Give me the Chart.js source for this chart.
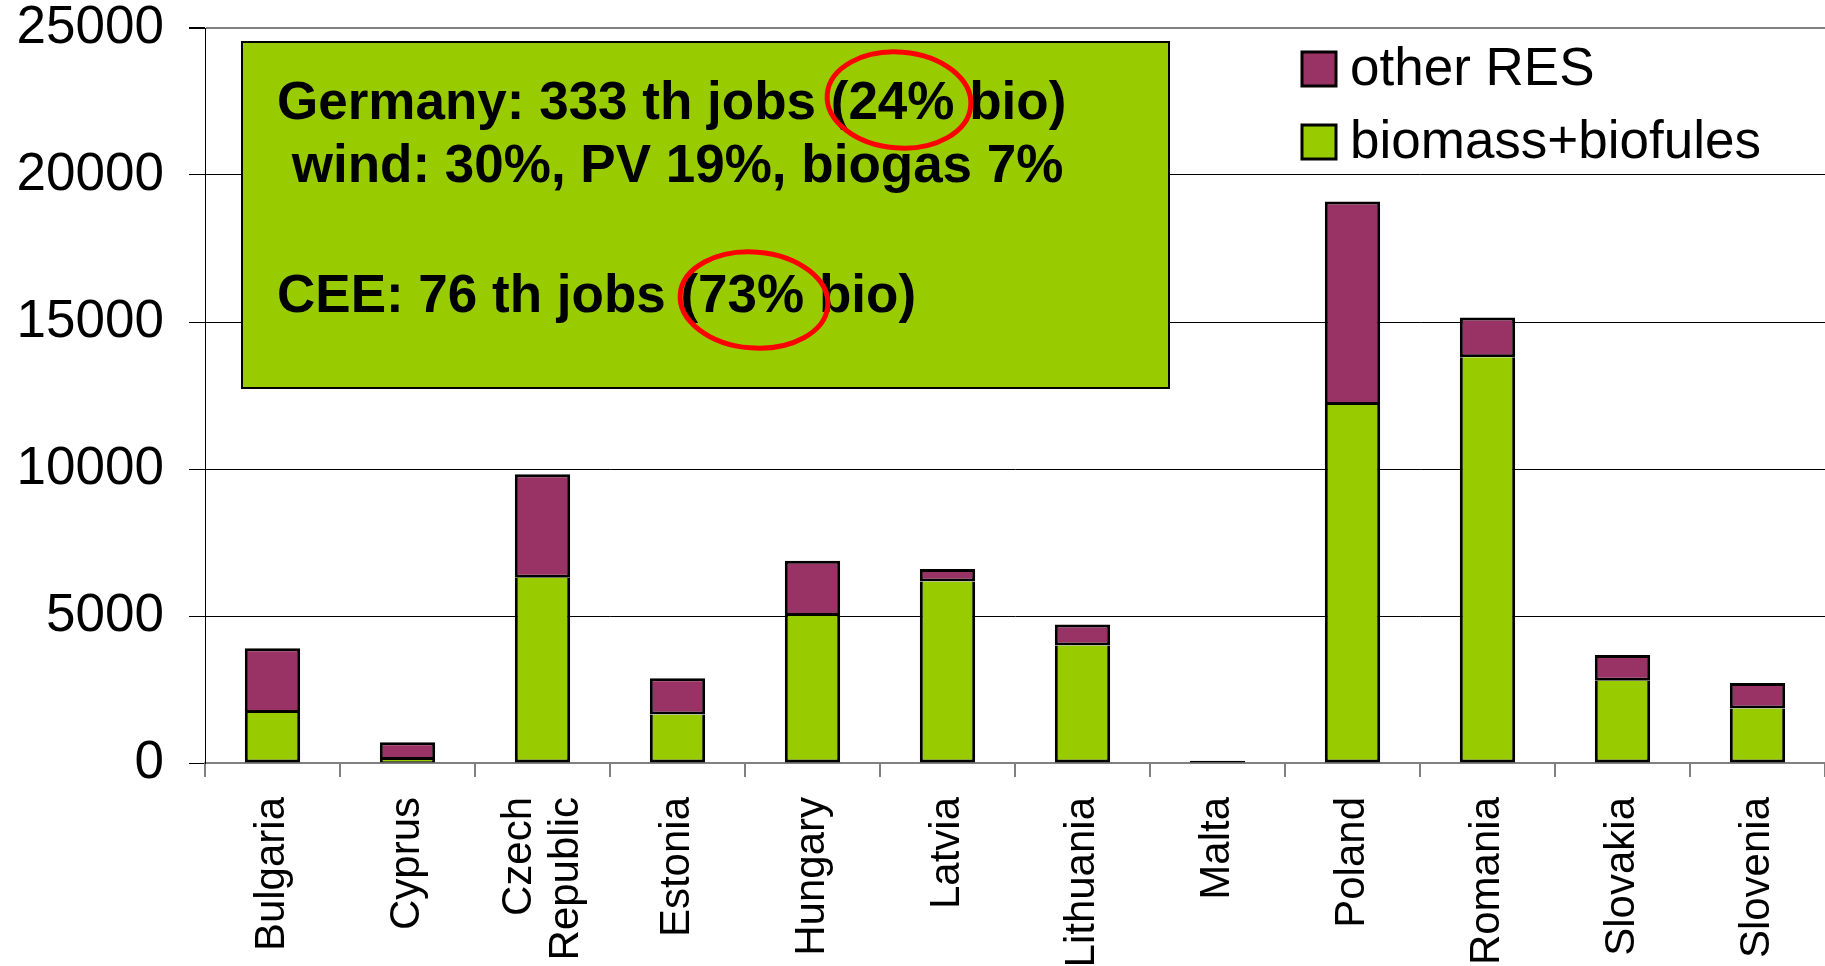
<!DOCTYPE html>
<html><head><meta charset="utf-8">
<script src="https://cdn.jsdelivr.net/npm/chart.js@4/dist/chart.umd.min.js"></script>
<style>html,body{margin:0;padding:0;background:#fff;overflow:hidden}#wrap{width:1825px;height:966px;position:relative}</style>
</head><body><div id="wrap"><canvas id="c" width="1825" height="966"></canvas></div>
<script>
const categories = ['Bulgaria','Cyprus',['Czech','Republic'],'Estonia','Hungary','Latvia','Lithuania','Malta','Poland','Romania','Slovakia','Slovenia'];
const biomass = [1700,100,6300,1650,5000,6170,4000,20,12180,13800,2800,1850];
const otherRES = [2200,610,3520,1230,1880,430,710,60,6920,1350,870,870];
const yTicks = [0,5000,10000,15000,20000,25000];
const seriesNames = ['biomass+biofules','other RES'];
const seriesColors = ['#99CC00','#993366'];
const boxLines = ['Germany: 333 th jobs (24% bio)',' wind: 30%, PV 19%, biogas 7%','CEE: 76 th jobs (73% bio)'];

const FONT = '"Liberation Sans", Arial, sans-serif';
const XFS = 42, XLH = 1.12;

const overlay = {
  id:'overlay',
  beforeDraw(chart){
    const s = chart.scales.x;
    const items = s.getLabelItems(chart.chartArea);
    items.forEach((it,i)=>{
      const lab = categories[i];
      if (Array.isArray(lab) && !it._shifted){
        it.options.translation[0] -= (lab.length-1)*XFS*XLH/2;
        it._shifted = true;
      }
    });
  },
  afterDraw(chart){
    const ctx = chart.ctx;
    ctx.save();
    ctx.fillStyle='#99CC00'; ctx.fillRect(242,42,927,346);
    ctx.strokeStyle='#000'; ctx.lineWidth=2; ctx.strokeRect(242,42,927,346);
    ctx.fillStyle='#000'; ctx.font='bold 53px '+FONT;
    ctx.textBaseline='alphabetic'; ctx.textAlign='left';
    ctx.fillText(boxLines[0], 277, 119);
    ctx.fillText(boxLines[1], 277, 182);
    ctx.fillText(boxLines[2], 277, 312);
    ctx.strokeStyle='#FF0000'; ctx.lineWidth=5;
    ctx.beginPath(); ctx.ellipse(899,100,72,48,0.08,0,Math.PI*2); ctx.stroke();
    ctx.beginPath(); ctx.ellipse(754,300,74,48,0.08,0,Math.PI*2); ctx.stroke();
    const order=[1,0], ys=[52,125];
    ctx.font='53px '+FONT; ctx.textBaseline='middle';
    order.forEach((di,k)=>{
      const ds=chart.data.datasets[di];
      ctx.fillStyle=ds.backgroundColor; ctx.fillRect(1302,ys[k],34,34);
      ctx.strokeStyle='#000'; ctx.lineWidth=3; ctx.strokeRect(1302,ys[k],34,34);
      ctx.fillStyle='#000'; ctx.fillText(ds.label,1350,ys[k]+18);
    });
    ctx.restore();
  }
};

new Chart(document.getElementById('c'),{
  type:'bar',
  data:{labels:categories,datasets:[
    {label:seriesNames[0],data:biomass,backgroundColor:seriesColors[0],borderColor:'#000',borderWidth:3,borderSkipped:'top',barPercentage:0.41,categoryPercentage:1},
    {label:seriesNames[1],data:otherRES,backgroundColor:seriesColors[1],borderColor:'#000',borderWidth:3,borderSkipped:false,barPercentage:0.41,categoryPercentage:1}
  ]},
  options:{
    responsive:false,animation:false,devicePixelRatio:1,
    layout:{padding:{top:28,right:0,left:0,bottom:0}},
    plugins:{legend:{display:false},tooltip:{enabled:false}},
    scales:{
      x:{stacked:true,
        afterFit(s){s.height=203;s.paddingLeft=0;s.paddingRight=0;},
        grid:{display:true,drawOnChartArea:false,drawTicks:true,tickLength:14,color:'#808080',lineWidth:2,offset:true},
        border:{display:true,color:'#808080',width:2},
        ticks:{maxRotation:90,minRotation:90,autoSkip:false,padding:20,color:'#000',font:{family:FONT,size:XFS,lineHeight:XLH}}
      },
      y:{stacked:true,min:0,max:25000,
        afterFit(s){s.width=205;s.paddingTop=0;s.paddingBottom=0;},
        afterBuildTicks(s){s.ticks=yTicks.map(v=>({value:v}));},
        grid:{color:(c)=>(c.tick&&(c.tick.value===0||c.tick.value===25000))?'#808080':'#000',lineWidth:(c)=>(c.tick&&(c.tick.value===25000))?2:1,tickLength:16,tickColor:'#000'},
        border:{display:true,color:'#000',width:1},
        ticks:{padding:25,color:'#000',font:{family:FONT,size:53},callback:(v)=>String(v)}
      }
    }
  },
  plugins:[overlay]
});
</script></body></html>
